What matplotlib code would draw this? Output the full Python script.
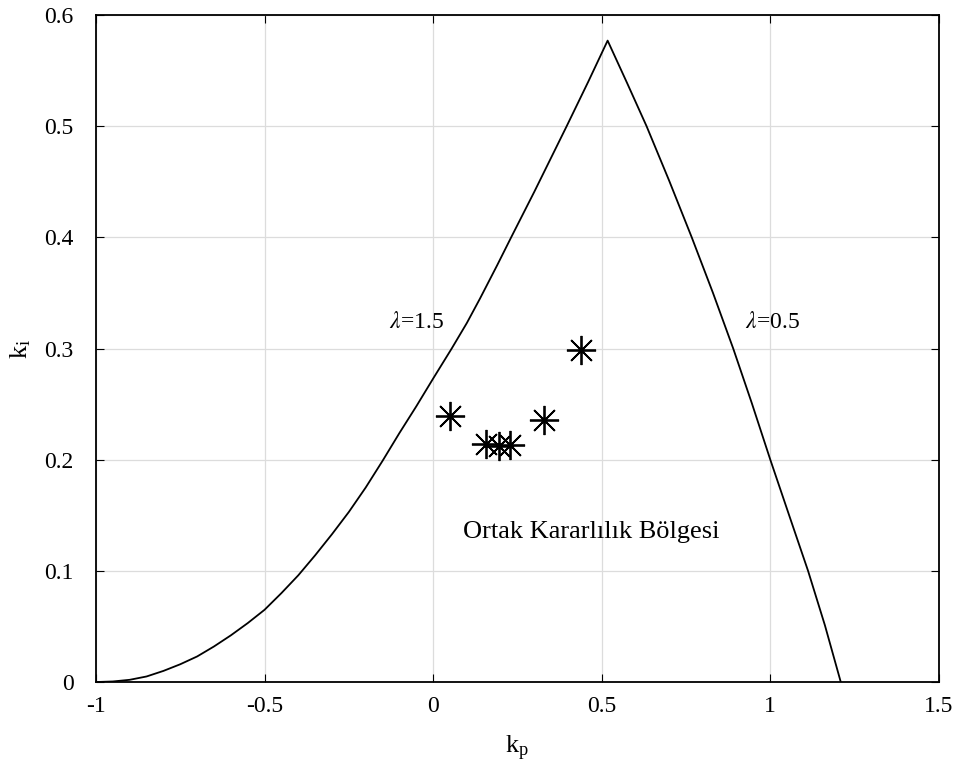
import matplotlib.pyplot as plt
plt.rcParams.update({'font.size': 17, 'font.family': 'serif',
                     'font.serif': ['Liberation Serif', 'DejaVu Serif'],
                     'mathtext.fontset': 'stix', 'axes.unicode_minus': False})

#. stability boundary, lambda = 1.5 branch (left)
kp_left = [-1.0, -0.95, -0.9, -0.85, -0.8, -0.75, -0.7, -0.65, -0.6, -0.55, -0.5,
           -0.45, -0.4, -0.35, -0.3, -0.25, -0.2, -0.15, -0.1, -0.05, 0.0,
           0.055, 0.1, 0.139, 0.19, 0.233, 0.3, 0.396, 0.46, 0.5175]
ki_left = [0.0, 0.0005, 0.002, 0.005, 0.010, 0.016, 0.023, 0.032, 0.042, 0.053, 0.065,
           0.080, 0.096, 0.114, 0.133, 0.153, 0.175, 0.199, 0.224, 0.248, 0.273,
           0.300, 0.323, 0.345, 0.375, 0.401, 0.441, 0.500, 0.540, 0.577]

#. lambda = 0.5 branch (right)
kp_right = [0.5175, 0.575, 0.633, 0.70, 0.767, 0.83, 0.890, 0.945, 1.000, 1.057, 1.112, 1.162, 1.209]
ki_right = [0.577, 0.539, 0.500, 0.451, 0.400, 0.350, 0.300, 0.251, 0.200, 0.149, 0.100, 0.051, 0.0]

#. selected controller points
kp_pts = [0.050, 0.157, 0.196, 0.229, 0.329, 0.438]
ki_pts = [0.239, 0.214, 0.212, 0.213, 0.236, 0.299]

xticks = [-1, -0.5, 0, 0.5, 1, 1.5]
xtick_labs = ['-1', '-0.5', '0', '0.5', '1', '1.5']
yticks = [0, 0.1, 0.2, 0.3, 0.4, 0.5, 0.6]
ytick_labs = ['0', '0.1', '0.2', '0.3', '0.4', '0.5', '0.6']


fig = plt.figure(figsize=(9.6, 7.71), dpi=100)
ax = fig.add_axes([0.1, 0.1154, 0.878, 0.8651])

ax.plot(kp_left + kp_right[1:], ki_left + ki_right[1:], c='k', lw=1.3)
ax.plot(kp_pts, ki_pts, ls='none', marker=(8, 2, 0), ms=21, mew=1.3, c='k')

ax.text(-0.13, 0.323, r'$\lambda$=1.5', fontsize=17, va='center')
ax.text(0.925, 0.323, r'$\lambda$=0.5', fontsize=17, va='center')
ax.text(0.09, 0.135, 'Ortak Kararlılık Bölgesi', fontsize=19, va='center')

ax.set_xlim(-1, 1.5)
ax.set_ylim(0, 0.6)
ax.set_xticks(xticks)
ax.set_xticklabels(xtick_labs)
ax.set_yticks(yticks)
ax.set_yticklabels(ytick_labs)
ax.tick_params(direction='in', top=True, right=True, length=6, width=0.8, pad=10)
ax.tick_params(axis='y', pad=16)
ax.grid(True, color='#dcdcdc', lw=0.9)
ax.set_axisbelow(True)
for s in ax.spines.values():
    s.set_linewidth(1.3)

ax.set_xlabel(r'k$_\mathregular{p}$', fontsize=19, labelpad=12)
ax.set_ylabel(r'k$_\mathregular{i}$', fontsize=19, labelpad=8)

plt.savefig('out.png', dpi=100)
